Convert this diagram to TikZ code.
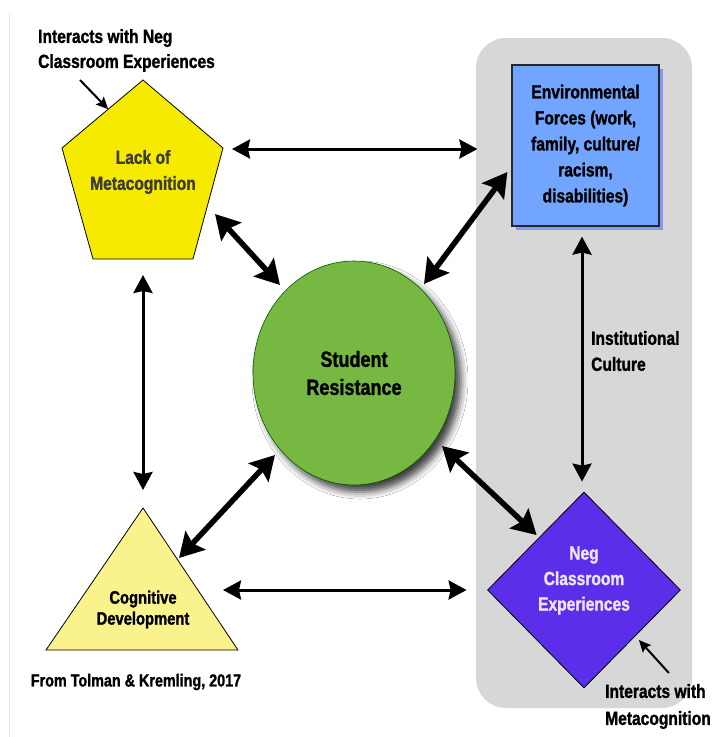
\documentclass[tikz,border=0pt]{standalone}
\usepackage{fontspec}
\setmainfont{Liberation Sans}[FakeStretch=0.82, BoldFeatures={FakeBold=1.3}]
\usetikzlibrary{arrows.meta,shapes.geometric,calc,shadows.blur}

\definecolor{panelgray}{HTML}{D7D7D7}
\definecolor{envblue}{HTML}{72A5FF}
\definecolor{envshadow}{HTML}{8C95F0}
\definecolor{resgreen}{HTML}{77B843}
\definecolor{negpurple}{HTML}{5B2EEA}
\definecolor{neglav}{HTML}{ECE6FF}
\definecolor{metayellow}{HTML}{F5EA00}
\definecolor{cogyellow}{HTML}{FAF28C}
\definecolor{metaink}{HTML}{3C3C3C}

\begin{document}
\begin{tikzpicture}[x=1pt,y=-1pt,
  every node/.style={inner sep=0pt, align=center},
  link/.style={line width=3pt,
    {Stealth[length=18pt,width=19pt,inset=2pt]}-{Stealth[length=18pt,width=19pt,inset=2pt]}},
  heavylink/.style={line width=5.5pt,
    {Stealth[length=24pt,width=27pt,inset=4pt]}-{Stealth[length=24pt,width=27pt,inset=4pt]}},
  pointer/.style={line width=2pt, -{Stealth[length=12pt,width=11pt,inset=2pt]}},
]
% canvas
\useasboundingbox (0,0) rectangle (713,737);
\fill[white] (0,0) rectangle (713,737);
\draw[black!10, line width=1pt] (9.5,13) -- (9.5,737);

% institutional panel
\fill[panelgray, rounded corners=30pt] (476,38) rectangle (692,708);

% pentagon: lack of metacognition
\coordinate (meta-top) at (143,80);
\coordinate (meta-r)   at (223,148);
\coordinate (meta-br)  at (193,259);
\coordinate (meta-bl)  at (93,259);
\coordinate (meta-l)   at (62,148);
\draw[fill=metayellow, line width=0.8pt] (meta-top) -- (meta-r) -- (meta-br) -- (meta-bl) -- (meta-l) -- cycle;
\node[text=metaink, font=\bfseries\fontsize{19}{26}\selectfont] (lackmeta) at (143,172) {Lack of\\Metacognition};

% triangle: cognitive development
\coordinate (cog-top) at (143,508);
\coordinate (cog-r)   at (238,650);
\coordinate (cog-l)   at (46,650);
\draw[fill=cogyellow, line width=0.8pt] (cog-top) -- (cog-r) -- (cog-l) -- cycle;
\node[font=\bfseries\fontsize{18}{21}\selectfont] (cogdev) at (143,609.5) {Cognitive\\Development};

% environmental forces box with offset shadow
\fill[envshadow] (516,69) rectangle (663,230);
\node[draw=black!85, line width=1.2pt, fill=envblue, minimum width=147pt, minimum height=161pt,
      font=\bfseries\fontsize{19}{26}\selectfont] (env) at (585.5,145.5)
  {Environmental\\Forces (work,\\family, culture/\\racism,\\disabilities)};

% student resistance
\node[ellipse, draw=green!35!black, line width=0.6pt, fill=resgreen,
      minimum width=202pt, minimum height=224pt,
      blur shadow={shadow xshift=6pt, shadow yshift=-7pt, shadow blur radius=7pt, shadow opacity=75},
      font=\bfseries\fontsize{22}{28}\selectfont] (res) at (354,373) {Student\\Resistance};

% negative classroom experiences
\node[diamond, draw=black, line width=0.8pt, fill=negpurple, minimum width=193pt, minimum height=196pt] (neg) at (584,590) {};
\node[text=neglav, font=\bfseries\fontsize{19}{25.5}\selectfont] (negtext) at (584,580.5) {Neg\\Classroom\\Experiences};

% side labels
\node[anchor=west, align=left, font=\bfseries\fontsize{19}{25}\selectfont] (note1) at (38,50.5) {Interacts with Neg\\Classroom Experiences};
\node[anchor=west, align=left, font=\bfseries\fontsize{19}{27}\selectfont] (note2) at (605,706.5) {Interacts with\\Metacognition};
\node[anchor=west, align=left, font=\bfseries\fontsize{19}{26}\selectfont] (inst) at (591,351) {Institutional\\Culture};
\node[font=\bfseries\fontsize{17.5}{21}\selectfont] (credit) at (136,682) {From Tolman \& Kremling, 2017};

% outer links
\draw[link] ($(meta-r)+(9,1)$) -- ($(env.west)+(-34,3.5)$);
\draw[link] ($(cog-top)+(80,82)$) -- ($(neg.west)+(-20.5,0)$);
\draw[link] ($(meta-bl)!0.5!(meta-br)+(0,16)$) -- ($(cog-top)+(0,-18)$);
\draw[link] ($(env.south)+(-3.5,10)$) -- ($(neg.north)+(-2,-10)$);

% links to the centre
\draw[heavylink] ($(meta-r)+(-8,66)$) -- ($(res.center)+(-74,-88)$);
\draw[heavylink] ($(env.west)+(-4,26.5)$) -- ($(res.center)+(70,-89)$);
\draw[heavylink] ($(res.center)+(-79,82)$) -- ($(cog-top)+(36,50)$);
\draw[heavylink] ($(res.center)+(88,73)$) -- ($(neg.west)+(49.5,-55)$);

% pointers from the side notes
\draw[pointer] ($(meta-top)+(-63,0)$) -- ($(meta-top)!0.43!(meta-l)$);
\draw[pointer] ($(neg.east)+(-12,83)$) -- ($(neg.east)+(-42,50)$);
\end{tikzpicture}
\end{document}
